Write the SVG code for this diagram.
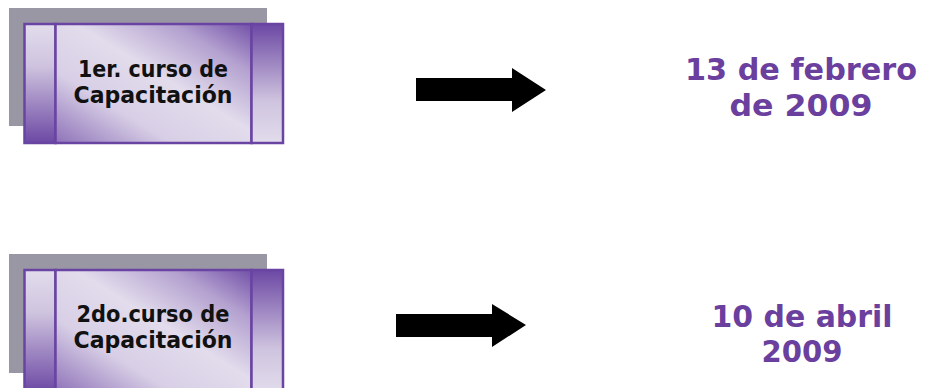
<svg xmlns="http://www.w3.org/2000/svg" width="926" height="388" viewBox="0 0 926 388">
<defs>
<linearGradient id="gl" x1="0" y1="0" x2="0" y2="1">
<stop offset="0" stop-color="#e2dcec"/><stop offset="0.35" stop-color="#cfc4df"/><stop offset="1" stop-color="#6c48a4"/>
</linearGradient>
<linearGradient id="gr" x1="0" y1="0" x2="0" y2="1">
<stop offset="0" stop-color="#6c48a4"/><stop offset="0.65" stop-color="#cfc4df"/><stop offset="1" stop-color="#e2dcec"/>
</linearGradient>
<linearGradient id="gm" x1="0" y1="1" x2="1" y2="0">
<stop offset="0" stop-color="#8e72b8"/><stop offset="0.3" stop-color="#d8cfe6"/><stop offset="0.55" stop-color="#e2dcec"/><stop offset="0.8" stop-color="#b3a0cf"/><stop offset="1" stop-color="#7250a8"/>
</linearGradient>
</defs>
<style>
.shadow{fill:#9a97a5}
.part{stroke:#6a44a3;stroke-width:2.5}
.lbl{font-family:"DejaVu Sans",sans-serif;font-weight:bold;font-size:23px;fill:#111;text-anchor:middle}
.date{font-family:"DejaVu Sans",sans-serif;font-weight:bold;font-size:31px;fill:#6a3f9e;text-anchor:middle}
.arrow{fill:#000}
</style>
<g id="node1">
<rect class="shadow" x="9" y="8" width="258" height="118"/>
<rect class="part" x="24.5" y="24" width="31" height="119" fill="url(#gl)"/>
<rect class="part" x="55.5" y="24" width="196" height="119" fill="url(#gm)"/>
<rect class="part" x="251.5" y="24" width="31.5" height="119" fill="url(#gr)"/>
<text class="lbl" x="153" y="77" textLength="150" lengthAdjust="spacingAndGlyphs">1er. curso de</text>
<text class="lbl" x="153" y="103" textLength="159" lengthAdjust="spacingAndGlyphs">Capacitación</text>
</g>
<g id="node2">
<rect class="shadow" x="9" y="254" width="258" height="119"/>
<rect class="part" x="24.5" y="270" width="31" height="122" fill="url(#gl)"/>
<rect class="part" x="55.5" y="270" width="196" height="122" fill="url(#gm)"/>
<rect class="part" x="251.5" y="270" width="31.5" height="122" fill="url(#gr)"/>
<text class="lbl" x="153" y="322" textLength="153" lengthAdjust="spacingAndGlyphs">2do.curso de</text>
<text class="lbl" x="153" y="348" textLength="159" lengthAdjust="spacingAndGlyphs">Capacitación</text>
</g>
<g id="date1">
<text class="date" x="801" y="80" textLength="232" lengthAdjust="spacingAndGlyphs">13 de febrero</text>
<text class="date" x="801" y="116" textLength="143" lengthAdjust="spacingAndGlyphs">de 2009</text>
</g>
<g id="date2">
<text class="date" x="802" y="327" textLength="181" lengthAdjust="spacingAndGlyphs">10 de abril</text>
<text class="date" x="802" y="362" textLength="81" lengthAdjust="spacingAndGlyphs">2009</text>
</g>
<g id="connectors">
<polygon class="arrow" points="416,78 512,78 512,68 546,90 512,112 512,101 416,101"/>
<polygon class="arrow" points="396,314 492,314 492,304 526,325 492,347 492,337 396,337"/>
</g>
</svg>
